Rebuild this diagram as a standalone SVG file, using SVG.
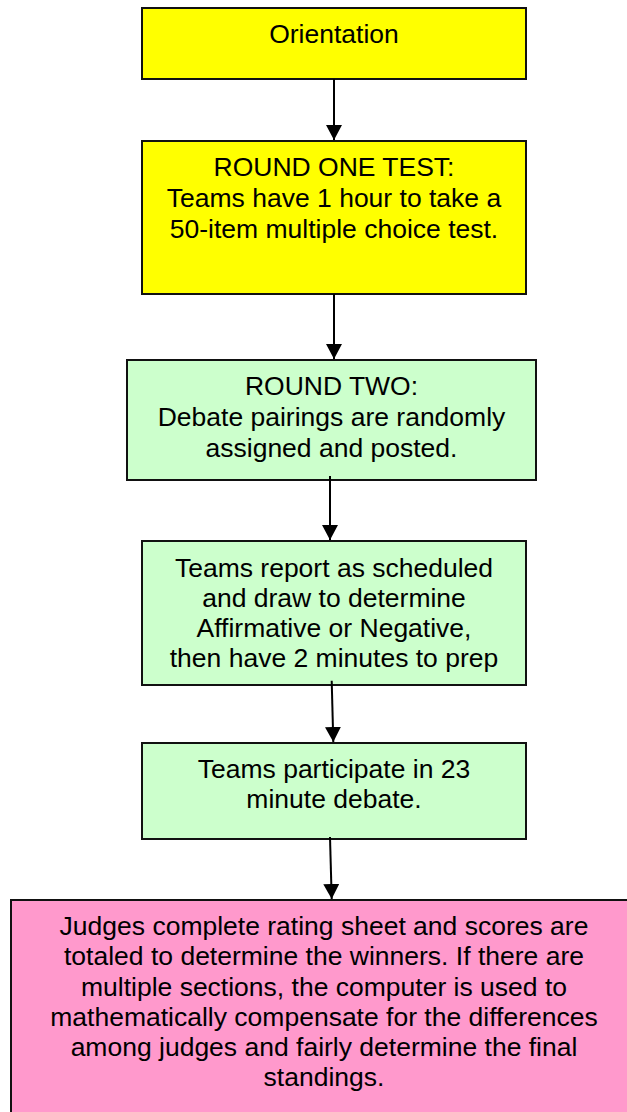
<svg xmlns="http://www.w3.org/2000/svg" width="627" height="1112" viewBox="0 0 627 1112">
  <style>
    .box { stroke: #111; stroke-width: 2; }
    .yellow { fill: #FFFF00; }
    .green { fill: #CCFFCC; }
    .pink { fill: #FF99CC; }
    .t { font-family: "Liberation Sans", Arial, sans-serif; font-size: 26.5px; fill: #000; text-anchor: middle; }
    .conn { stroke: #000; stroke-width: 2; fill: none; }
  </style>
  <defs>
    <marker id="arrow" markerUnits="userSpaceOnUse" markerWidth="16" markerHeight="16" refX="15" refY="8" orient="auto">
      <path d="M0,0 L15,8 L0,16 Z" fill="#000"/>
    </marker>
  </defs>
  <rect width="627" height="1112" fill="#fff"/>

  <g id="node-orientation">
    <rect class="box yellow" x="142" y="8" width="384" height="71"/>
    <text class="t" x="334" y="43">Orientation</text>
  </g>

  <g id="node-round-one">
    <rect class="box yellow" x="142" y="141" width="384" height="153"/>
    <text class="t" x="334" y="176">ROUND ONE TEST:</text>
    <text class="t" x="334" y="207">Teams have 1 hour to take a</text>
    <text class="t" x="334" y="238">50-item multiple choice test.</text>
  </g>

  <g id="node-round-two">
    <rect class="box green" x="127" y="360" width="409" height="120"/>
    <text class="t" x="331.5" y="395">ROUND TWO:</text>
    <text class="t" x="331.5" y="426">Debate pairings are randomly</text>
    <text class="t" x="331.5" y="457">assigned and posted.</text>
  </g>

  <g id="node-report">
    <rect class="box green" x="142" y="541" width="384" height="144"/>
    <text class="t" x="334" y="577">Teams report as scheduled</text>
    <text class="t" x="334" y="607">and draw to determine</text>
    <text class="t" x="334" y="637">Affirmative or Negative,</text>
    <text class="t" x="334" y="667">then have 2 minutes to prep</text>
  </g>

  <g id="node-debate">
    <rect class="box green" x="142" y="743" width="384" height="96"/>
    <text class="t" x="334" y="778">Teams participate in 23</text>
    <text class="t" x="334" y="808">minute debate.</text>
  </g>

  <g id="node-judges">
    <rect class="box pink" x="11" y="900" width="630" height="230"/>
    <text class="t" x="324" y="935">Judges complete rating sheet and scores are</text>
    <text class="t" x="324" y="965">totaled to determine the winners. If there are</text>
    <text class="t" x="324" y="996">multiple sections, the computer is used to</text>
    <text class="t" x="324" y="1026">mathematically compensate for the differences</text>
    <text class="t" x="324" y="1056">among judges and fairly determine the final</text>
    <text class="t" x="324" y="1086">standings.</text>
  </g>

  <g id="connectors">
    <line class="conn" x1="334" y1="79" x2="334" y2="140" marker-end="url(#arrow)"/>
    <line class="conn" x1="334" y1="294" x2="334" y2="359" marker-end="url(#arrow)"/>
    <line class="conn" x1="330" y1="476" x2="330" y2="540" marker-end="url(#arrow)"/>
    <line class="conn" x1="331.7" y1="680.7" x2="333.3" y2="742" marker-end="url(#arrow)"/>
    <line class="conn" x1="330" y1="837" x2="331.7" y2="899" marker-end="url(#arrow)"/>
  </g>
</svg>
